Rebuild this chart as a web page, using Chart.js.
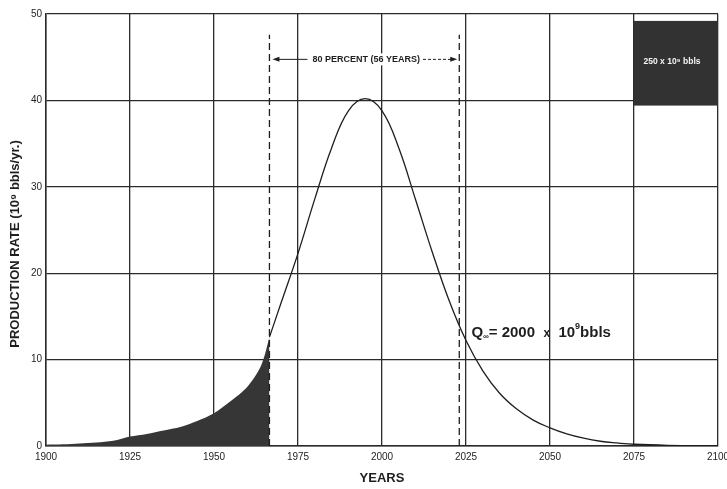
<!DOCTYPE html>
<html lang="en">
<head>
<meta charset="UTF-8">
<title>Production Rate</title>
<script src="https://cdn.jsdelivr.net/npm/chart.js"></script>
<style>
  html, body { margin: 0; padding: 0; background: #fff; }
  #wrap { width: 727px; height: 489px; }
</style>
</head>
<body>
<div id="wrap"><canvas id="rateChart" width="727" height="489"></canvas></div>
<script>
// cumulative production to date (shaded)
const histYears = [1900, 1905, 1910, 1915, 1920, 1925, 1930, 1935, 1940, 1945, 1950, 1955, 1960, 1964, 1966.5];
const histRates = [0.15, 0.2, 0.3, 0.4, 0.6, 1.1, 1.4, 1.8, 2.2, 2.9, 3.8, 5.2, 6.9, 9.3, 12.6];

// complete cycle curve
const curveYears = [1966.5, 1970, 1975, 1980, 1985, 1990, 1995, 2000, 2005, 2010, 2015, 2020, 2025, 2030, 2035, 2040, 2045, 2050, 2055, 2060, 2065, 2070, 2075, 2085, 2100];
const curveRates = [12.6, 16.6, 22.3, 28.6, 34.5, 38.8, 40.2, 38.8, 34.5, 28.5, 22.4, 16.8, 12.2, 8.7, 6.1, 4.3, 3.0, 2.1, 1.4, 0.9, 0.55, 0.35, 0.2, 0.08, 0.02];

// 80 percent interval markers
const dashYears = [1966.5, 2023];
const dashTop = 47.6;

// scale box (250 x 10^9 bbls)
const boxYears = [2075, 2100];
const boxRates = [39.4, 49.2];

const yearTicks = [1900, 1925, 1950, 1975, 2000, 2025, 2050, 2075, 2100];
const rateTicks = [0, 10, 20, 30, 40, 50];

const FONT = '"Liberation Sans", Arial, Helvetica, sans-serif';
const INK = '#1e1e1e';

const toPoints = (xs, ys) => xs.map((x, i) => ({ x: x, y: ys[i] }));

const notesPlugin = {
    id: 'notes',
    afterDatasetsDraw(chart) {
        const { ctx, chartArea, scales: { x, y } } = chart;
        ctx.save();

        // black scale box
        const bx0 = x.getPixelForValue(boxYears[0]);
        const bx1 = x.getPixelForValue(boxYears[1]);
        const by0 = y.getPixelForValue(boxRates[1]);
        const by1 = y.getPixelForValue(boxRates[0]);
        ctx.fillStyle = '#323232';
        ctx.fillRect(bx0, by0, bx1 - bx0, by1 - by0);
        ctx.fillStyle = '#f4f4f4';
        ctx.font = 'bold 8.5px ' + FONT;
        ctx.textAlign = 'center';
        ctx.textBaseline = 'middle';
        ctx.fillText('250 x 10⁹ bbls', (bx0 + bx1) / 2 - 4, (by0 + by1) / 2 - 2);

        // 80 percent arrows
        const ay = y.getPixelForValue(44.75);
        const leftTip = x.getPixelForValue(dashYears[0] + 0.9);
        const rightTip = x.getPixelForValue(dashYears[1] - 0.6);
        const midX = x.getPixelForValue(1995.3);
        const label = '80 PERCENT (56 YEARS)';
        ctx.font = 'bold 9px ' + FONT;
        const half = ctx.measureText(label).width / 2;
        ctx.fillStyle = '#fff';
        ctx.fillRect(midX - half - 3, ay - 6, 2 * half + 6, 12);
        ctx.fillStyle = INK;
        ctx.strokeStyle = INK;
        ctx.lineWidth = 1;
        ctx.fillText(label, midX, ay);
        ctx.beginPath();
        ctx.moveTo(leftTip + 5, ay);
        ctx.lineTo(midX - half - 5, ay);
        ctx.stroke();
        ctx.setLineDash([3, 2]);
        ctx.beginPath();
        ctx.moveTo(midX + half + 3, ay);
        ctx.lineTo(rightTip - 5, ay);
        ctx.stroke();
        ctx.setLineDash([]);
        ctx.beginPath();
        ctx.moveTo(leftTip, ay);
        ctx.lineTo(leftTip + 7, ay - 2.5);
        ctx.lineTo(leftTip + 7, ay + 2.5);
        ctx.closePath();
        ctx.fill();
        ctx.beginPath();
        ctx.moveTo(rightTip, ay);
        ctx.lineTo(rightTip - 7, ay - 2.5);
        ctx.lineTo(rightTip - 7, ay + 2.5);
        ctx.closePath();
        ctx.fill();

        // Q label
        let qx = x.getPixelForValue(2026.6);
        const qy = y.getPixelForValue(13.1);
        ctx.textAlign = 'left';
        ctx.textBaseline = 'middle';
        const runs = [
            { t: 'Q', f: 'bold 15px ', dy: 0 },
            { t: '∞', f: 'bold 8px ', dy: 4 },
            { t: '= 2000  ', f: 'bold 15px ', dy: 0 },
            { t: 'x', f: 'bold 12px ', dy: 1 },
            { t: '  10', f: 'bold 15px ', dy: 0 },
            { t: '9', f: 'bold 9px ', dy: -6 },
            { t: 'bbls', f: 'bold 15px ', dy: 0 }
        ];
        runs.forEach(r => {
            ctx.font = r.f + FONT;
            ctx.fillText(r.t, qx, qy + r.dy);
            qx += ctx.measureText(r.t).width;
        });

        // y axis title
        ctx.save();
        ctx.translate(15, (chartArea.top + chartArea.bottom) / 2 + 14);
        ctx.rotate(-Math.PI / 2);
        ctx.textAlign = 'center';
        ctx.font = 'bold 13px ' + FONT;
        ctx.fillText('PRODUCTION RATE (10⁹ bbls/yr.)', 0, 0);
        ctx.restore();

        ctx.restore();
    }
};

new Chart(document.getElementById('rateChart').getContext('2d'), {
    type: 'line',
    data: {
        datasets: [
            {
                label: 'Produced',
                data: toPoints(histYears, histRates),
                fill: 'origin',
                backgroundColor: '#363636',
                borderWidth: 0,
                pointRadius: 0,
                tension: 0.3,
                order: 3
            },
            {
                label: 'Complete cycle',
                data: toPoints(curveYears, curveRates),
                fill: false,
                borderColor: INK,
                borderWidth: 1.3,
                pointRadius: 0,
                tension: 0.4,
                order: 2
            },
            {
                label: 'start',
                data: toPoints([dashYears[0], dashYears[0]], [0, dashTop]),
                borderColor: INK,
                borderWidth: 1.3,
                borderDash: [7, 4],
                pointRadius: 0,
                order: 1
            },
            {
                label: 'end',
                data: toPoints([dashYears[1], dashYears[1]], [0, dashTop]),
                borderColor: INK,
                borderWidth: 1.3,
                borderDash: [7, 4],
                pointRadius: 0,
                order: 1
            }
        ]
    },
    options: {
        responsive: false,
        animation: false,
        events: [],
        layout: { padding: { top: 14, right: 9, bottom: 0, left: 0 } },
        plugins: {
            legend: { display: false },
            tooltip: { enabled: false }
        },
        scales: {
            x: {
                type: 'linear',
                min: 1900,
                max: 2100,
                afterBuildTicks: s => { s.ticks = yearTicks.map(v => ({ value: v })); },
                afterFit: s => { s.height = 43; s.paddingLeft = 0; s.paddingRight = 0; },
                grid: { color: '#2a2a2a', lineWidth: 1.3, drawTicks: false },
                border: { color: '#2a2a2a', width: 1.5 },
                ticks: {
                    padding: 5,
                    color: INK,
                    font: { family: FONT, size: 10 },
                    maxRotation: 0,
                    callback: v => String(v)
                },
                title: {
                    display: true,
                    text: 'YEARS',
                    color: INK,
                    font: { family: FONT, size: 13, weight: 'bold' },
                    padding: { top: 0, bottom: 3 }
                }
            },
            y: {
                min: 0,
                max: 50,
                afterBuildTicks: s => { s.ticks = rateTicks.map(v => ({ value: v })); },
                afterFit: s => { s.width = 46; },
                grid: { color: '#2a2a2a', lineWidth: 1.3, drawTicks: false },
                border: { color: '#2a2a2a', width: 1.5 },
                ticks: {
                    padding: 4,
                    color: INK,
                    font: { family: FONT, size: 10 }
                }
            }
        }
    },
    plugins: [notesPlugin]
});
</script>
</body>
</html>
